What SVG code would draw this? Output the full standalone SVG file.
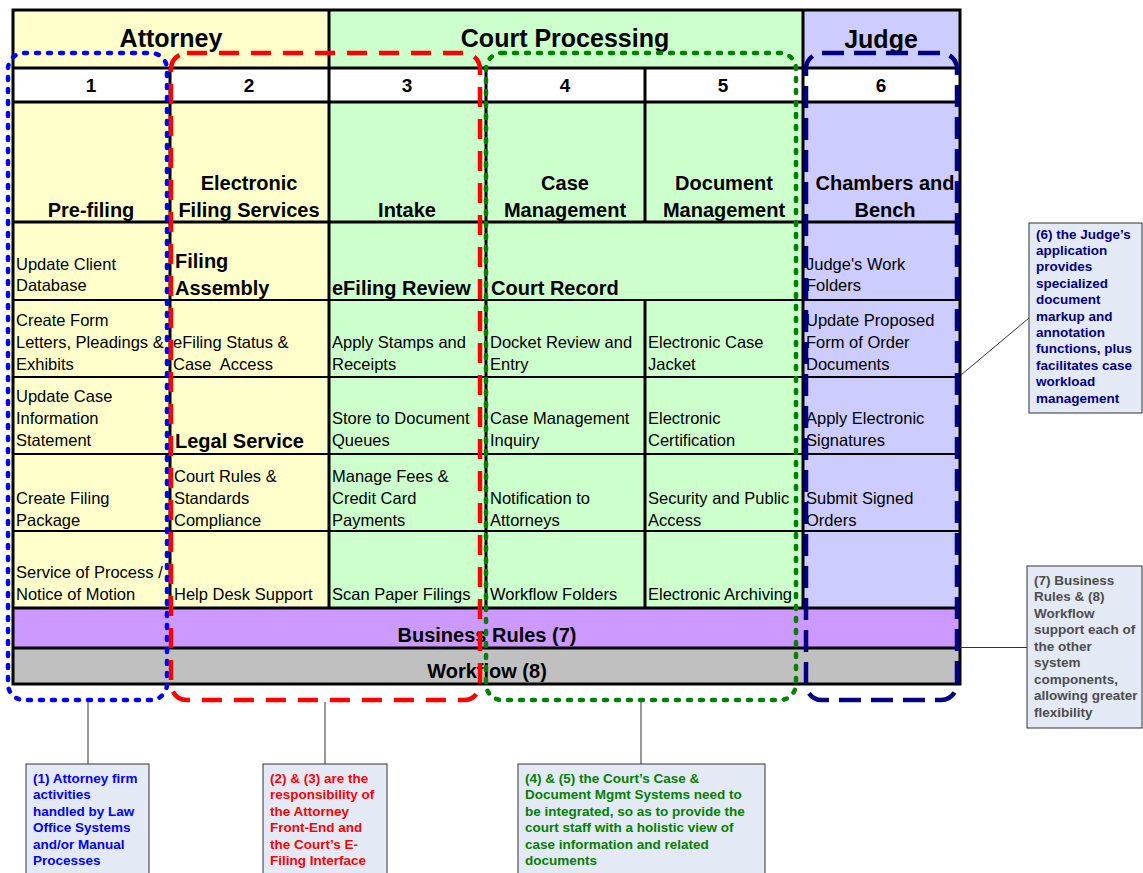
<svg xmlns="http://www.w3.org/2000/svg" width="1143" height="873" viewBox="0 0 1143 873">
  <style>
    text { font-family: "Liberation Sans", Arial, sans-serif; fill: #000; }
    .hdr { font-size: 25px; font-weight: bold; text-anchor: middle; }
    .num { font-size: 19px; font-weight: bold; text-anchor: middle; }
    .ttl { font-size: 20px; font-weight: bold; text-anchor: middle; }
    .sub { font-size: 20px; font-weight: bold; }
    .body { font-size: 16.5px; }
    .band { font-size: 20px; font-weight: bold; text-anchor: middle; }
    .note { font-size: 13.5px; font-weight: bold; }
    .yel { fill: #FFFFCC; }
    .grn { fill: #CCFFCC; }
    .lav { fill: #CCCCFF; }
    .thick { stroke: #000; stroke-width: 3; fill: none; }
    .thin { stroke: #000; stroke-width: 2; fill: none; }
    .grp { fill: none; stroke-width: 4.5; }
    .box { fill: #E4EAF5; stroke: #333; stroke-width: 1; }
    .lead { stroke: #333; stroke-width: 1; fill: none; }
  </style>

  <!-- cell backgrounds -->
  <g id="backgrounds">
    <rect class="yel" x="13" y="10" width="316" height="598"/>
    <rect class="grn" x="329" y="10" width="474" height="598"/>
    <rect class="lav" x="803" y="10" width="157" height="598"/>
    <rect fill="#FFFFFF" x="13" y="68" width="947" height="34"/>
    <rect fill="#CC99FF" x="13" y="608" width="947" height="40"/>
    <rect fill="#C0C0C0" x="13" y="648" width="947" height="36"/>
  </g>

  <!-- grid lines -->
  <g id="grid">
    <path class="thin" d="M13 300H960M13 377H960M13 454H960M13 531H960"/>
    <path class="thick" d="M13 68H960M13 102H960M13 222H960M13 608H960M13 648H960"/>
    <path class="thick" d="M170 68V608M329 10V608M486 68V608M645 68V222M645 300V608M803 10V608"/>
    <rect class="thick" x="13" y="10" width="947" height="674" stroke-width="3.5"/>
  </g>

  <!-- header row -->
  <g id="header">
    <text class="hdr" x="171" y="47">Attorney</text>
    <text class="hdr" x="565" y="47">Court Processing</text>
    <text class="hdr" x="881" y="48">Judge</text>
  </g>

  <!-- column numbers -->
  <g id="numbers">
    <text class="num" x="91" y="92">1</text>
    <text class="num" x="249" y="92">2</text>
    <text class="num" x="407" y="92">3</text>
    <text class="num" x="565" y="92">4</text>
    <text class="num" x="723" y="92">5</text>
    <text class="num" x="881" y="92">6</text>
  </g>

  <!-- column 1: pre-filing -->
  <g id="col1">
    <text class="ttl" x="91" y="217">Pre-filing</text>
    <text class="body" x="16" y="270">Update Client</text>
    <text class="body" x="16" y="291">Database</text>
    <text class="body" x="16" y="326">Create Form</text>
    <text class="body" x="16" y="348">Letters, Pleadings &amp;</text>
    <text class="body" x="16" y="370">Exhibits</text>
    <text class="body" x="16" y="402">Update Case</text>
    <text class="body" x="16" y="424">Information</text>
    <text class="body" x="16" y="446">Statement</text>
    <text class="body" x="16" y="504">Create Filing</text>
    <text class="body" x="16" y="526">Package</text>
    <text class="body" x="16" y="578">Service of Process /</text>
    <text class="body" x="16" y="600">Notice of Motion</text>
  </g>

  <!-- column 2: electronic filing services -->
  <g id="col2">
    <text class="ttl" x="249" y="190">Electronic</text>
    <text class="ttl" x="249" y="217">Filing Services</text>
    <text class="sub" x="175" y="268">Filing</text>
    <text class="sub" x="175" y="295">Assembly</text>
    <text class="body" x="173" y="348">eFiling Status &amp;</text>
    <text class="body" x="173" y="370" xml:space="preserve">Case  Access</text>
    <text class="sub" x="175" y="448">Legal Service</text>
    <text class="body" x="174" y="482">Court Rules &amp;</text>
    <text class="body" x="174" y="504">Standards</text>
    <text class="body" x="174" y="526">Compliance</text>
    <text class="body" x="174" y="600">Help Desk Support</text>
  </g>

  <!-- column 3: intake -->
  <g id="col3">
    <text class="ttl" x="407" y="217">Intake</text>
    <text class="sub" x="332" y="295">eFiling Review</text>
    <text class="body" x="332" y="348">Apply Stamps and</text>
    <text class="body" x="332" y="370">Receipts</text>
    <text class="body" x="332" y="424">Store to Document</text>
    <text class="body" x="332" y="446">Queues</text>
    <text class="body" x="332" y="482">Manage Fees &amp;</text>
    <text class="body" x="332" y="504">Credit Card</text>
    <text class="body" x="332" y="526">Payments</text>
    <text class="body" x="332" y="600">Scan Paper Filings</text>
  </g>

  <!-- column 4: case management -->
  <g id="col4">
    <text class="ttl" x="565" y="190">Case</text>
    <text class="ttl" x="565" y="217">Management</text>
    <text class="sub" x="491" y="295">Court Record</text>
    <text class="body" x="490" y="348">Docket Review and</text>
    <text class="body" x="490" y="370">Entry</text>
    <text class="body" x="490" y="424">Case Management</text>
    <text class="body" x="490" y="446">Inquiry</text>
    <text class="body" x="490" y="504">Notification to</text>
    <text class="body" x="490" y="526">Attorneys</text>
    <text class="body" x="490" y="600">Workflow Folders</text>
  </g>

  <!-- column 5: document management -->
  <g id="col5">
    <text class="ttl" x="724" y="190">Document</text>
    <text class="ttl" x="724" y="217">Management</text>
    <text class="body" x="648" y="348">Electronic Case</text>
    <text class="body" x="648" y="370">Jacket</text>
    <text class="body" x="648" y="424">Electronic</text>
    <text class="body" x="648" y="446">Certification</text>
    <text class="body" x="648" y="504">Security and Public</text>
    <text class="body" x="648" y="526">Access</text>
    <text class="body" x="648" y="600">Electronic Archiving</text>
  </g>

  <!-- column 6: chambers and bench -->
  <g id="col6">
    <text class="ttl" x="885" y="190">Chambers and</text>
    <text class="ttl" x="885" y="217">Bench</text>
    <text class="body" x="806" y="270">Judge's Work</text>
    <text class="body" x="806" y="291">Folders</text>
    <text class="body" x="806" y="326">Update Proposed</text>
    <text class="body" x="806" y="348">Form of Order</text>
    <text class="body" x="806" y="370">Documents</text>
    <text class="body" x="806" y="424">Apply Electronic</text>
    <text class="body" x="806" y="446">Signatures</text>
    <text class="body" x="806" y="504">Submit Signed</text>
    <text class="body" x="806" y="526">Orders</text>
  </g>

  <!-- shared bands -->
  <g id="bands">
    <text class="band" x="487" y="642">Business Rules (7)</text>
    <text class="band" x="487" y="678">Workflow (8)</text>
  </g>

  <!-- system boundary outlines -->
  <g id="boundaries">
    <rect id="bound-law-office" class="grp" x="8" y="53" width="159" height="647" rx="16" stroke="#0000FF" stroke-dasharray="3 9" stroke-linecap="round"/>
    <rect id="bound-efiling" class="grp" x="171" y="53" width="309" height="647" rx="16" stroke="#FF0000" stroke-dasharray="20 12"/>
    <rect id="bound-court" class="grp" x="486" y="53" width="310" height="647" rx="16" stroke="#008000" stroke-dasharray="3 9" stroke-linecap="round"/>
    <rect id="bound-judge" class="grp" x="806" y="53" width="151" height="647" rx="16" stroke="#000080" stroke-dasharray="22 10"/>
  </g>

  <!-- leader lines to notes -->
  <g id="connectors">
    <path class="lead" d="M88 702V764"/>
    <path class="lead" d="M325 702V764"/>
    <path class="lead" d="M641 702V764"/>
    <path class="lead" d="M961 375L1029 318"/>
    <path class="lead" d="M960 647.5H1027"/>
  </g>

  <!-- notes -->
  <g id="note1">
    <rect class="box" x="26" y="764" width="123" height="120"/>
    <text class="note" fill="#0000FF" style="fill:#0000FF">
      <tspan x="33" y="783">(1) Attorney firm</tspan>
      <tspan x="33" y="799.4">activities</tspan>
      <tspan x="33" y="815.8">handled by Law</tspan>
      <tspan x="33" y="832.2">Office Systems</tspan>
      <tspan x="33" y="848.6">and/or Manual</tspan>
      <tspan x="33" y="865">Processes</tspan>
    </text>
  </g>

  <g id="note2">
    <rect class="box" x="263" y="764" width="124" height="120"/>
    <text class="note" style="fill:#FF0000">
      <tspan x="270" y="783">(2) &amp; (3) are the</tspan>
      <tspan x="270" y="799.4">responsibility of</tspan>
      <tspan x="270" y="815.8">the Attorney</tspan>
      <tspan x="270" y="832.2">Front-End and</tspan>
      <tspan x="270" y="848.6">the Court’s E-</tspan>
      <tspan x="270" y="865">Filing Interface</tspan>
    </text>
  </g>

  <g id="note3">
    <rect class="box" x="518" y="764" width="247" height="120"/>
    <text class="note" style="fill:#008000">
      <tspan x="525" y="783">(4) &amp; (5) the Court’s Case &amp;</tspan>
      <tspan x="525" y="799.4">Document Mgmt Systems need to</tspan>
      <tspan x="525" y="815.8">be integrated, so as to provide the</tspan>
      <tspan x="525" y="832.2">court staff with a holistic view of</tspan>
      <tspan x="525" y="848.6">case information and related</tspan>
      <tspan x="525" y="865">documents</tspan>
    </text>
  </g>

  <g id="note6">
    <rect class="box" x="1029" y="223" width="113" height="190"/>
    <text class="note" style="fill:#000080">
      <tspan x="1036" y="238.5">(6) the Judge’s</tspan>
      <tspan x="1036" y="254.9">application</tspan>
      <tspan x="1036" y="271.3">provides</tspan>
      <tspan x="1036" y="287.7">specialized</tspan>
      <tspan x="1036" y="304.1">document</tspan>
      <tspan x="1036" y="320.5">markup and</tspan>
      <tspan x="1036" y="336.9">annotation</tspan>
      <tspan x="1036" y="353.3">functions, plus</tspan>
      <tspan x="1036" y="369.7">facilitates case</tspan>
      <tspan x="1036" y="386.1">workload</tspan>
      <tspan x="1036" y="402.5">management</tspan>
    </text>
  </g>

  <g id="note7">
    <rect class="box" x="1027" y="566" width="115" height="162"/>
    <text class="note" style="fill:#4D4D4D">
      <tspan x="1034" y="584.5">(7) Business</tspan>
      <tspan x="1034" y="601">Rules &amp; (8)</tspan>
      <tspan x="1034" y="617.5">Workflow</tspan>
      <tspan x="1034" y="634">support each of</tspan>
      <tspan x="1034" y="650.5">the other</tspan>
      <tspan x="1034" y="667">system</tspan>
      <tspan x="1034" y="683.5">components,</tspan>
      <tspan x="1034" y="700">allowing greater</tspan>
      <tspan x="1034" y="716.5">flexibility</tspan>
    </text>
  </g>
</svg>
